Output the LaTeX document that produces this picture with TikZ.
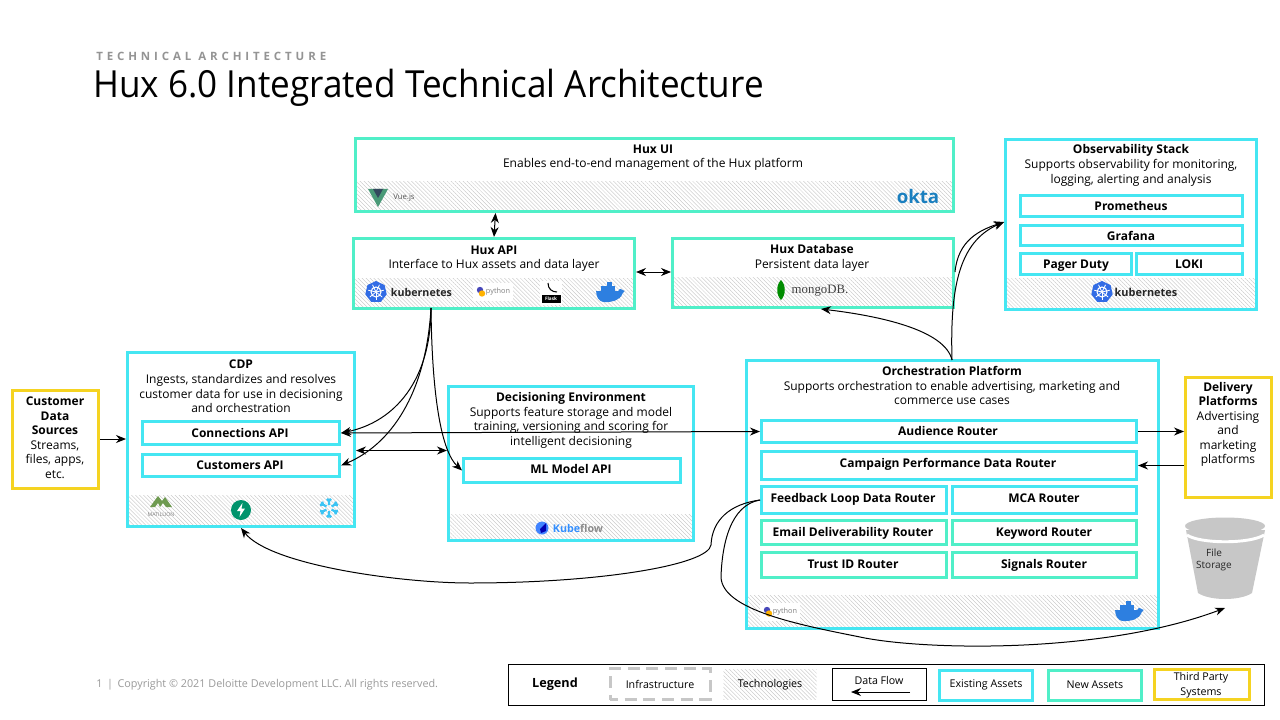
\documentclass[tikz,border=0pt]{standalone}
\usepackage{fontspec}
\setmainfont{Open Sans}
\newfontfamily\spaced[LetterSpace=34]{Open Sans}
\newfontfamily\titlef[FakeStretch=0.94]{Open Sans}
\newfontfamily\serifmongo{Liberation Serif}
\usetikzlibrary{arrows.meta,patterns.meta,calc}
\definecolor{newc}{HTML}{50EFC8}
\definecolor{oldc}{HTML}{45E6F2}
\definecolor{thirdc}{HTML}{F5D321}
\definecolor{kubec}{HTML}{326CE5}
\definecolor{dockc}{HTML}{2D7FE0}
\definecolor{footc}{HTML}{9A9A9A}
\definecolor{vuec}{HTML}{4A9A78}
\definecolor{vued}{HTML}{34495E}
\definecolor{oktac}{HTML}{1A7FBF}
\definecolor{matc}{HTML}{6E9A50}
\tikzset{
  x=0.75pt,y=-0.75pt,
  boxold/.style={draw=oldc,line width=2.25pt,fill=white,inner sep=0pt},
  boxnew/.style={draw=newc,line width=2.25pt,fill=white,inner sep=0pt},
  boxthird/.style={draw=thirdc,line width=2.25pt,fill=white,inner sep=0pt},
  boxold0/.style={draw=oldc,line width=2.25pt,inner sep=0pt},
  boxnew0/.style={draw=newc,line width=2.25pt,inner sep=0pt},
  txt/.style={inner sep=0pt,align=center,text=black,font=\fontsize{9}{10.9}\selectfont},
  hd/.style={inner sep=0pt,align=center,text=black,font=\fontsize{9}{10.9}\selectfont\bfseries},
  lg/.style={inner sep=0pt,align=center,text=black,font=\fontsize{8}{11}\selectfont},
  flow/.style={draw=black,line width=0.75pt,-{Stealth[length=7.5pt,width=6pt]}},
  flowb/.style={draw=black,line width=0.75pt,{Stealth[length=7.5pt,width=6pt]}-{Stealth[length=7.5pt,width=6pt]}},
  hatchfill/.style={pattern={Lines[angle=-45,distance=2.1pt,line width=0.25pt]},pattern color=black!25},
}
\newcommand{\bx}[6]{\node[#6,minimum width={(#4-#2-3)*0.75pt},minimum height={(#5-#3-3)*0.75pt}] (#1) at ({(#2+#4)/2},{(#3+#5)/2}) {};}
\newcommand{\lb}[5]{\node[#4] (#1) at (#2,#3) {#5};}
\newcommand{\hatch}[4]{\path[hatchfill] (#1,#2) rectangle (#3,#4);}
\newcommand{\kube}[2]{\begin{scope}[shift={(#1,#2)}]
  \fill[kubec] (0,-11) -- (8.6,-6.9) -- (10.7,2.4) -- (4.8,9.9) -- (-4.8,9.9) -- (-10.7,2.4) -- (-8.6,-6.9) -- cycle;
  \draw[white,line width=0.8pt] (0,0) circle (5);
  \foreach \a in {90,141,193,244,296,347,39} {\draw[white,line width=0.6pt] (0,0) -- (\a:8);}
\end{scope}}
\newcommand{\docker}[2]{\begin{scope}[shift={(#1,#2)},scale=0.92]
  \fill[dockc] (-14,-1) -- (10,-1) .. controls (11,-4) and (14,-4) .. (15,-2) .. controls (17,-2) and (18,-1) .. (15,1) .. controls (12,10) and (2,11) .. (-4,11) .. controls (-12,11) and (-14,4) .. (-14,-1) -- cycle;
  \fill[dockc] (-9,-6) rectangle (7,-1.5);
  \fill[dockc] (-2,-11) rectangle (3,-6);
\end{scope}}
\newcommand{\pyth}[2]{\begin{scope}[shift={(#1,#2)}]
  \fill[white] (-20,-9) rectangle (20,9);
  \fill[blue!45!gray] (-13,-2) circle (3.2);
  \fill[orange!60!yellow] (-11,1.5) circle (3.2);
  \node[inner sep=0pt,text=black!50,font=\fontsize{5.5}{7}\selectfont] (py#1) at (5,0) {python};
\end{scope}}
\begin{document}
\begin{tikzpicture}
\useasboundingbox[fill=white] (0,0) rectangle (1280,720);
% heading
\node[inner sep=0pt,anchor=west,text=black!42,font=\fontsize{8.6}{10}\spaced\bfseries] (kicker) at (96,56) {TECHNICAL ARCHITECTURE};
\node[inner sep=0pt,anchor=west,text=black,font=\fontsize{28}{30}\titlef] (title) at (93,88) {Hux 6.0 Integrated Technical Architecture};
\node[inner sep=0pt,anchor=west,text=footc,font=\fontsize{8.1}{10}\selectfont] (foot) at (96,685) {1 \,|\, Copyright © 2021 Deloitte Development LLC. All rights reserved.};
% outer boxes
\bx{ui}{354}{137}{955}{213}{boxnew}
\bx{api}{352}{237}{636}{310}{boxnew}
\bx{db}{671}{237}{955}{309}{boxnew}
\bx{obs}{1004}{138}{1258}{311}{boxold}
\bx{cdp}{126}{351}{356}{528}{boxold}
\bx{dec}{447}{385}{695}{542}{boxold}
\bx{orch}{745}{359}{1160}{630}{boxold}
\bx{src}{11}{389}{100}{490}{boxthird}
\bx{del}{1184}{376}{1273}{499}{boxthird}
% hatching
\hatch{356}{182}{953}{211}
\hatch{354}{278}{634}{308}
\hatch{673}{277}{953}{307}
\hatch{1006}{278}{1256}{309}
\hatch{128}{495}{354}{526}
\hatch{449}{514}{693}{540}
\hatch{747}{595}{1158}{628}
% redraw frames over hatching
\bx{uif}{354}{137}{955}{213}{boxnew0}
\bx{apif}{352}{237}{636}{310}{boxnew0}
\bx{dbf}{671}{237}{955}{309}{boxnew0}
\bx{obsf}{1004}{138}{1258}{311}{boxold0}
\bx{cdpf}{126}{351}{356}{528}{boxold0}
\bx{decf}{447}{385}{695}{542}{boxold0}
\bx{orchf}{745}{359}{1160}{630}{boxold0}
% inner boxes
\bx{prom}{1019}{194}{1244}{218}{boxold}
\bx{graf}{1019}{224}{1244}{247}{boxold}
\bx{pager}{1019}{252}{1133}{276}{boxold}
\bx{loki}{1135}{252}{1244}{276}{boxold}
\bx{conn}{141}{420}{341}{446}{boxold}
\bx{cust}{141}{453}{341}{478}{boxold}
\bx{ml}{462}{457}{682}{484}{boxold}
\bx{aud}{760}{419}{1138}{444}{boxold}
\bx{camp}{760}{450}{1138}{481}{boxold}
\bx{feed}{760}{485}{948}{515}{boxold}
\bx{mca}{951}{485}{1138}{515}{boxold}
\bx{email}{760}{519}{948}{546}{boxnew}
\bx{key}{951}{519}{1138}{546}{boxnew}
\bx{trust}{760}{551}{948}{579}{boxnew}
\bx{sig}{951}{551}{1138}{579}{boxnew}
% texts
\lb{uit}{653}{149}{hd}{Hux UI}
\lb{uis}{653}{164}{txt}{Enables end-to-end management of the Hux platform}
\lb{apit}{494}{250}{hd}{Hux API}
\lb{apis}{494}{265}{txt}{Interface to Hux assets and data layer}
\lb{dbt}{812}{249}{hd}{Hux Database}
\lb{dbs}{812}{265}{txt}{Persistent data layer}
\lb{obst}{1131}{150}{hd}{Observability Stack}
\lb{obss}{1131}{173}{txt}{Supports observability for monitoring,\\logging, alerting and analysis}
\lb{promt}{1131}{206}{hd}{Prometheus}
\lb{graft}{1131}{236}{hd}{Grafana}
\lb{pagert}{1076}{266}{hd}{Pager Duty}
\lb{lokit}{1189}{264}{hd}{LOKI}
\lb{cdpt}{241}{364}{hd}{CDP}
\lb{cdps}{241}{393.7}{txt}{Ingests, standardizes and resolves\\customer data for use in decisioning\\and orchestration}
\lb{connt}{240}{433}{hd}{Connections API}
\lb{custt}{240}{465}{hd}{Customers API}
\lb{dect}{571}{398}{hd}{Decisioning Environment}
\lb{decs}{571}{427.5}{txt}{Supports feature storage and model\\training, versioning and scoring for\\intelligent decisioning}
\lb{mlt}{571}{469}{hd}{ML Model API}
\lb{orcht}{952}{371}{hd}{Orchestration Platform}
\lb{orchs}{952}{393}{txt}{Supports orchestration to enable advertising, marketing and\\commerce use cases}
\lb{audt}{948}{431}{hd}{Audience Router}
\lb{campt}{948}{464}{hd}{Campaign Performance Data Router}
\lb{feedt}{853}{499}{hd}{Feedback Loop Data Router}
\lb{mcat}{1044}{498}{hd}{MCA Router}
\lb{emailt}{853}{533}{hd}{Email Deliverability Router}
\lb{keyt}{1044}{533}{hd}{Keyword Router}
\lb{trustt}{853}{564}{hd}{Trust ID Router}
\lb{sigt}{1044}{565}{hd}{Signals Router}
\lb{srct}{55}{416}{hd}{Customer\\Data\\Sources}
\lb{srcs}{55}{459.6}{txt}{Streams,\\files, apps,\\etc.}
\lb{delt}{1228}{394}{hd}{Delivery\\Platforms}
\lb{dels}{1228}{439}{txt}{Advertising\\and\\marketing\\platforms}
% logos
\begin{scope}[shift={(378,198)}]
  \fill[vuec] (-10,-9) -- (10,-9) -- (0,9) -- cycle;
  \fill[vued] (-5,-9) -- (5,-9) -- (0,0) -- cycle;
\end{scope}
\lb{vuet}{404}{198}{inner sep=0pt,text=black!65,font=\fontsize{5.8}{8}\selectfont}{Vue.js}
\lb{okta}{918}{197}{inner sep=0pt,text=oktac,font=\fontsize{14}{15}\selectfont\bfseries}{okta}
\kube{376}{292}
\lb{kubet}{421.5}{292}{inner sep=0pt,text=black!85,font=\fontsize{8}{10}\selectfont\bfseries}{kubernetes}
\pyth{493}{292}
\begin{scope}[shift={(552,292)}]
  \fill[white] (-12,-11) rectangle (10,13);
  \draw[black,line width=0.8pt] (-4,-9) .. controls (-4,-3) and (0,0) .. (5,0);
  \fill[black] (-10,3) rectangle (9,11);
\end{scope}
\lb{flaskt}{551}{299}{inner sep=0pt,text=white,font=\fontsize{3.5}{4}\selectfont\bfseries}{Flask}
\docker{609}{292}
\begin{scope}[shift={(781,290)}]
  \fill[green!55!black] (0,-10) .. controls (5,-5) and (5,5) .. (0,10) .. controls (-5,5) and (-5,-5) .. (0,-10) -- cycle;
\end{scope}
\lb{mongot}{820}{291}{inner sep=0pt,text=black!75,font=\fontsize{9.6}{12}\serifmongo}{mongoDB.}
\kube{1102}{292}
\lb{kubet2}{1146}{292}{inner sep=0pt,text=black!85,font=\fontsize{8.2}{10}\selectfont\bfseries}{kubernetes}
\begin{scope}[shift={(161,502)}]
  \fill[matc] (-11,5) -- (-3,-6) -- (1,-1) -- (4,-5) -- (11,5) -- (5,5) -- (2,1) -- (-1,5) -- (-3,1) -- (-6,5) -- cycle;
\end{scope}
\lb{matt}{161}{515}{inner sep=0pt,text=black!50,font=\fontsize{3.9}{5}\selectfont}{MATILLION}
\begin{scope}[shift={(241,510)}]
  \fill[teal!85!green] (0,0) circle (10);
  \fill[white] (1.5,-7) -- (-4,1) -- (-0.5,1) -- (-1.5,7) -- (4,-1.5) -- (0.5,-1.5) -- cycle;
\end{scope}
\begin{scope}[shift={(329,508)}]
  \foreach \a in {30,90,150,210,270,330} {\draw[oldc!85!blue,line width=1.7pt] (0,0) ++(\a:3) -- (\a:9.5) (\a:7) -- +(\a+45:3) (\a:7) -- +(\a-45:3);}
\end{scope}
\begin{scope}[shift={(542,528)}]
  \fill[blue!65!cyan!75] (0,0) circle (6.5);
  \fill[blue!70!black] (-2,1) -- (4,-5) -- (4,3) -- (-1,5) -- cycle;
\end{scope}
\lb{kubef}{578}{528}{inner sep=0pt,font=\fontsize{8}{10}\selectfont\bfseries}{\textcolor{blue!55!cyan!80}{Kube}\textcolor{black!45}{flow}}
\pyth{780}{612}
\docker{1128}{611}
% bucket
\fill[black!22] (1186,530) -- (1198,593) .. controls (1210,601) and (1240,601) .. (1252,593) -- (1265,530) -- cycle;
\draw[white,line width=2.2pt] (1187,535) .. controls (1200,544) and (1250,544) .. (1264,535);
\fill[black!22] (1225,526) ellipse (40 and 8.5);
\lb{file}{1214}{553}{inner sep=0pt,text=black!85,font=\fontsize{7.5}{10}\selectfont}{File}
\lb{stor}{1214}{566}{inner sep=0pt,text=black!85,font=\fontsize{7.5}{10}\selectfont}{Storage}
\coordinate (bucket) at (1225,608);
% connectors
\draw[flowb] ([xshift=-159*0.75pt]ui.south) -- (api.north);
\draw[flowb] (api.east |- 0,272) -- (db.west |- 0,272);
\draw[flow] (src.east |- 0,439) -- (cdp.west |- 0,439);
\coordinate (apib) at (431,308);
\draw[flow] (apib) .. controls (431,380) and (395,422) .. (conn.east);
\draw[flow] (apib) .. controls (426,395) and (390,445) .. (cust.east);
\draw[flow] (apib) .. controls (432,400) and (442,452) .. (ml.west);
\draw[flowb] (conn.east) -- (aud.west);
\draw[flowb] (cdp.east |- 0,450.5) -- (dec.west |- 0,450.5);
\draw[flow] (aud.east) -- (del.west |- aud.east);
\draw[flow] (del.west |- camp.east) -- (camp.east);
\coordinate (orchtop) at (952,360);
\draw[flow] (orchtop) .. controls (945,330) and (880,316) .. ([xshift=6pt]db.south);
\draw[flow] (orchtop) .. controls (950,290) and (958,242) .. (obs.west |- 0,222);
\draw[flow] (db.east |- 0,272) .. controls (958,240) and (980,230) .. (obs.west |- 0,222);
\draw[flow] (feed.west) .. controls (730,504) and (712,520) .. (711,545) .. controls (708,565) and (600,583) .. (470,583) .. controls (400,583) and (270,565) .. (cdp.south);
\draw[flow] (feed.west) .. controls (730,505) and (722,545) .. (721,577) .. controls (722,610) and (800,625) .. (860,637) .. controls (920,650) and (1100,655) .. (bucket);
% legend
\node[draw=black,line width=0.75pt,fill=white,inner sep=0pt,minimum width=756*0.75pt,minimum height=41*0.75pt] (legend) at (886,684.5) {};
\lb{legt}{555}{684}{inner sep=0pt,text=black,font=\fontsize{9.5}{11}\selectfont\bfseries}{Legend}
\node[draw=black!22,line width=2.25pt,dash pattern=on 9pt off 5pt,dash phase=3pt,inner sep=0pt,minimum width=100*0.75pt,minimum height=31*0.75pt] (linf) at (660,684) {};
\lb{linft}{660}{684}{lg}{Infrastructure}
\node[hatchfill,inner sep=0pt,minimum width=93*0.75pt,minimum height=30*0.75pt] (ltech) at (770,684) {};
\lb{ltecht}{770}{685}{lg}{Technologies}
\node[draw=black,line width=0.75pt,inner sep=0pt,minimum width=94*0.75pt,minimum height=32*0.75pt] (lflow) at (879,684) {};
\lb{lflowt}{879}{680}{lg}{Data Flow}
\coordinate (fa) at (910,692); \coordinate (fb) at (851,692);
\draw[flow] (fa) -- (fb);
\node[draw=oldc,line width=2.25pt,inner sep=0pt,minimum width=93*0.75pt,minimum height=30*0.75pt] (lold) at (986,685) {};
\lb{loldt}{986}{685}{lg}{Existing Assets}
\node[draw=newc,line width=2.25pt,inner sep=0pt,minimum width=93*0.75pt,minimum height=30*0.75pt] (lnew) at (1095,685) {};
\lb{lnewt}{1095}{685}{lg}{New Assets}
\node[draw=thirdc,line width=2.25pt,inner sep=0pt,minimum width=95*0.75pt,minimum height=30*0.75pt] (lthird) at (1202,684) {};
\lb{lthirdt}{1201}{685}{lg}{Third Party\\Systems}
\end{tikzpicture}
\end{document}
